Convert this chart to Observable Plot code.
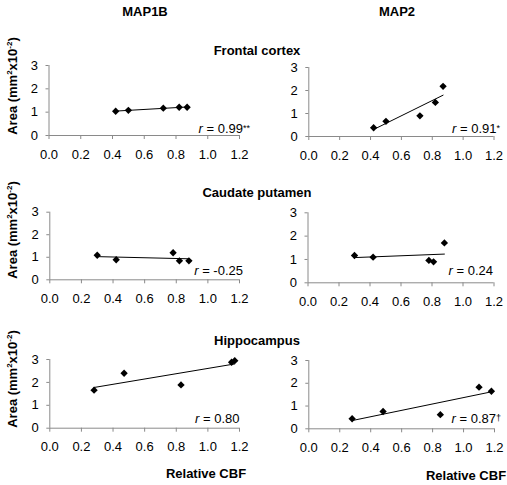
<!DOCTYPE html>
<html>
<head>
<meta charset="utf-8">
<script src="https://cdn.jsdelivr.net/npm/d3@7"></script>
<script src="https://cdn.jsdelivr.net/npm/@observablehq/plot@0.6"></script>
<style>
  html, body { margin: 0; padding: 0; background: #fff; }
  #wrap { position: relative; width: 507px; height: 485px; overflow: hidden;
          font-family: "Liberation Sans", Arial, Helvetica, sans-serif; color: #000; }
  .panel { position: absolute; }
  .lbl { position: absolute; white-space: nowrap; line-height: 1; font-size: 13px; }
  .b { font-weight: bold; }
  .c { transform: translate(-50%, -50%); }
  .r { transform: translate(-100%, -50%); }
  .rot { transform: translate(-50%, -50%) rotate(-90deg); }
  sup { font-size: 8px; vertical-align: 0; position: relative; top: -5px; }
  .star { font-size: 9px; position: relative; top: -2px; }
</style>
</head>
<body>
<div id="wrap"></div>
<script>
// ---- data ----
const mapNames = ["MAP1B", "MAP2"];
const regionNames = ["Frontal cortex", "Caudate putamen", "Hippocampus"];
const xTicks = [0, 0.2, 0.4, 0.6, 0.8, 1.0, 1.2];
const yTicks = [0, 1, 2, 3];

const frontalMAP1B_cbf  = [0.42, 0.50, 0.72, 0.82, 0.87];
const frontalMAP1B_area = [1.04, 1.08, 1.17, 1.21, 1.21];
const frontalMAP2_cbf   = [0.42, 0.50, 0.72, 0.82, 0.87];
const frontalMAP2_area  = [0.38, 0.66, 0.90, 1.48, 2.18];

const caudateMAP1B_cbf  = [0.30, 0.42, 0.78, 0.82, 0.88];
const caudateMAP1B_area = [1.09, 0.89, 1.20, 0.84, 0.84];
const caudateMAP2_cbf   = [0.30, 0.42, 0.78, 0.81, 0.88];
const caudateMAP2_area  = [1.17, 1.10, 0.96, 0.90, 1.71];

const hippoMAP1B_cbf    = [0.28, 0.47, 0.83, 1.15, 1.17];
const hippoMAP1B_area   = [1.66, 2.40, 1.89, 2.88, 2.95];
const hippoMAP2_cbf     = [0.28, 0.48, 0.85, 1.10, 1.18];
const hippoMAP2_area    = [0.44, 0.76, 0.62, 1.83, 1.65];

const rValues = ["0.99", "0.91", "-0.25", "0.24", "0.80", "0.87"];
const rSignif = ["**", "*", "", "", "", "†"];
const xAxisTitle = "Relative CBF";
const yAxisTitle = 'Area (mm<sup>2</sup>x10<sup>-2</sup>)';

// ---- layout ----
const wrap = document.getElementById("wrap");
const series = [
  [frontalMAP1B_cbf, frontalMAP1B_area], [frontalMAP2_cbf, frontalMAP2_area],
  [caudateMAP1B_cbf, caudateMAP1B_area], [caudateMAP2_cbf, caudateMAP2_area],
  [hippoMAP1B_cbf, hippoMAP1B_area],     [hippoMAP2_cbf, hippoMAP2_area]
];
// per panel: svg left, top, width, height, margins [top,right,bottom,left]
const boxes = [
  {l: 0,   t: 55,  w: 253, h: 110, m: [10, 14, 30, 48.5]},
  {l: 253, t: 55,  w: 254, h: 110, m: [12, 13.5, 29, 55.3]},
  {l: 0,   t: 200, w: 253, h: 110, m: [11.7, 14, 30.7, 49.3]},
  {l: 253, t: 200, w: 254, h: 110, m: [12.3, 13.5, 27.7, 54.5]},
  {l: 0,   t: 348, w: 253, h: 110, m: [11, 14, 30.3, 49.3]},
  {l: 253, t: 348, w: 254, h: 110, m: [12, 13, 29.7, 55.3]}
];

series.forEach(([xs, ys], i) => {
  const data = xs.map((x, k) => ({cbf: x, area: ys[k]}));
  const b = boxes[i];
  const chart = Plot.plot({
    width: b.w, height: b.h,
    marginTop: b.m[0], marginRight: b.m[1], marginBottom: b.m[2], marginLeft: b.m[3],
    x: {domain: [0, 1.2]},
    y: {domain: [0, 3]},
    style: {fontFamily: '"Liberation Sans", Arial, sans-serif', fontSize: "13px",
            background: "transparent", overflow: "visible", color: "#000"},
    marks: [
      Plot.ruleY([0], {stroke: "#8a8a8a", strokeWidth: 1}),
      Plot.ruleX([0], {stroke: "#8a8a8a", strokeWidth: 1}),
      Plot.axisX({ticks: xTicks, tickFormat: d3.format(".1f"), tickSize: 4, tickPadding: 10,
                  stroke: "#8a8a8a", fill: "#000", fontSize: 13, label: null}),
      Plot.axisY({ticks: yTicks, tickFormat: d3.format("d"), tickSize: 3, tickPadding: 8,
                  stroke: "#8a8a8a", fill: "#000", fontSize: 13, label: null}),
      Plot.linearRegressionY(data, {x: "cbf", y: "area", ci: 0, stroke: "#000", strokeWidth: 1}),
      Plot.dot(data, {x: "cbf", y: "area", symbol: "diamond2", r: 3.3, fill: "#000", stroke: "none"})
    ]
  });
  const holder = document.createElement("div");
  holder.className = "panel";
  holder.style.left = b.l + "px";
  holder.style.top = b.t + "px";
  holder.appendChild(chart);
  wrap.appendChild(holder);
});

function addLabel(html, x, y, cls) {
  const d = document.createElement("div");
  d.className = "lbl " + cls;
  d.style.left = x + "px";
  d.style.top = y + "px";
  d.innerHTML = html;
  wrap.appendChild(d);
}

// column titles
addLabel(mapNames[0], 145, 11, "b c");
addLabel(mapNames[1], 397, 11, "b c");
// region titles
const regionY = [50, 192, 340];
regionNames.forEach((n, i) => addLabel(n, 257, regionY[i], "b c"));
// y-axis titles
const yTitleY = [86, 230, 379];
yTitleY.forEach(y => addLabel(yAxisTitle, 12, y, "b rot"));
// x-axis titles
addLabel(xAxisTitle, 206, 473, "b c");
addLabel(xAxisTitle, 466, 475, "b c");
// r annotations (right edge, center y)
const rPos = [[250, 127.5], [500, 128], [243, 269.5], [493, 270], [239.5, 418], [501, 418]];
rPos.forEach(([x, y], i) => {
  const s = rSignif[i] ? '<span class="star">' + rSignif[i] + '</span>' : "";
  addLabel('<i>r</i> = ' + rValues[i] + s, x, y, "r");
});
</script>
</body>
</html>
